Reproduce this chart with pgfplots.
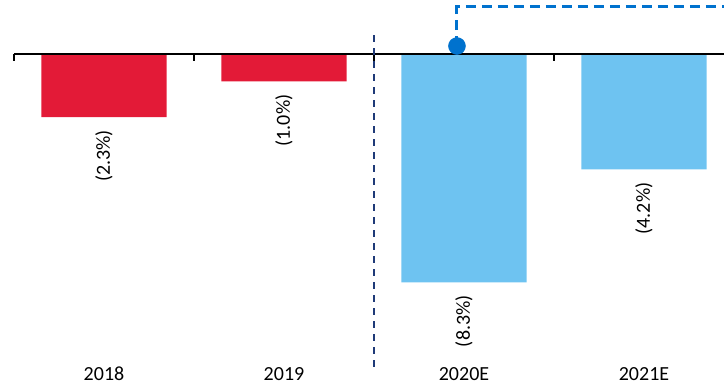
\documentclass[border=0pt]{standalone}
\usepackage{pgfplots}
\pgfplotsset{compat=1.18}
\usepackage{fontspec}
\setmainfont{Carlito}
\definecolor{barred}{RGB}{227,26,55}
\definecolor{barblue}{RGB}{110,195,241}
\definecolor{markblue}{RGB}{0,114,206}
\definecolor{navy}{RGB}{31,58,120}
\begin{document}
\begin{tikzpicture}
\begin{axis}[
  scale only axis,
  width=720pt, height=385pt,
  xmin=-0.5, xmax=3.5,
  ymin=-12.036, ymax=1.9636,
  axis line style={draw=none},
  major tick length=0pt,
  ytick=\empty,
  xtick={0,1,2,3},
  xticklabels={2018,2019,2020E,2021E},
  xticklabel style={anchor=center, yshift=11pt, font=\fontsize{20}{24}\selectfont},
  clip=false,
  barlab/.style={ybar, bar width=125pt, bar shift=0pt, draw=none,
    point meta=explicit symbolic, nodes near coords,
    every node near coord/.append style={rotate=90, anchor=east, inner xsep=13pt, outer sep=0pt, font=\fontsize{20}{24}\selectfont, text=black}},
]
\addplot[barlab, fill=barred] coordinates {(0,-2.3) [(2.3\%)] (1,-1.0) [(1.0\%)]};
\addplot[barlab, fill=barblue] coordinates {(2,-8.3) [(8.3\%)] (3,-4.2) [(4.2\%)]};
\draw[black, line width=2pt] (axis cs:-0.5,0) -- (axis cs:3.5,0);
\draw[black, line width=1.5pt] (axis cs:-0.5,0) -- (axis cs:-0.5,-0.255);
\draw[black, line width=1.5pt] (axis cs:0.5,0) -- (axis cs:0.5,-0.255);
\draw[black, line width=1.5pt] (axis cs:1.5,0) -- (axis cs:1.5,-0.255);
\draw[black, line width=1.5pt] (axis cs:2.5,0) -- (axis cs:2.5,-0.255);
\draw[navy, line width=1.8pt, dash pattern=on 7pt off 6pt] (axis cs:1.5,0.69) -- (axis cs:1.5,-11.6);
\addplot[sharp plot, draw=markblue, line width=3pt, dash pattern=on 10.5pt off 5.5pt, mark=*, mark size=8.5pt, mark options={solid, fill=markblue, draw=markblue, line width=0.5pt}, mark indices={1}] coordinates {(1.961,0.29) (1.961,1.709) (3.5,1.709)};
\end{axis}
\pgfresetboundingbox
\path[use as bounding box] (-14pt,0pt) rectangle (710pt,385pt);
\end{tikzpicture}
\end{document}
